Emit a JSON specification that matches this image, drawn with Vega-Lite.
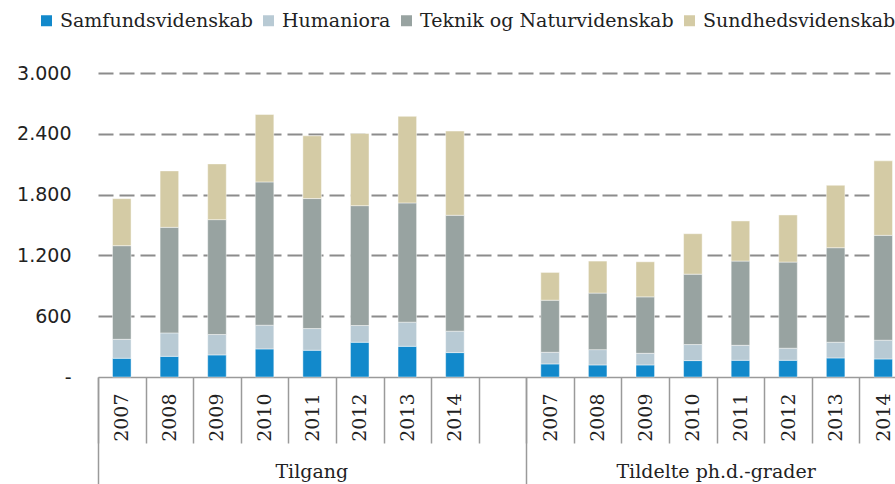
{
  "$schema": "https://vega.github.io/schema/vega-lite/v6.json",
  "width": 797,
  "height": 304,
  "autosize": {"type": "none"},
  "padding": {"left": 98, "top": 73, "right": 0, "bottom": 107},
  "background": "white",
  "config": {
    "view": {"stroke": null},
    "font": "DejaVu Serif",
    "locale": {"number": {"decimal": ",", "thousands": ".", "grouping": [3], "currency": ["", " kr."]}}
  },
  "data": {
    "values": [
      {"group": "Tilgang", "year": "2007", "Samfundsvidenskab": 185, "Humaniora": 187, "Teknik og Naturvidenskab": 924, "Sundhedsvidenskab": 464},
      {"group": "Tilgang", "year": "2008", "Samfundsvidenskab": 204, "Humaniora": 231, "Teknik og Naturvidenskab": 1042, "Sundhedsvidenskab": 557},
      {"group": "Tilgang", "year": "2009", "Samfundsvidenskab": 218, "Humaniora": 201, "Teknik og Naturvidenskab": 1134, "Sundhedsvidenskab": 550},
      {"group": "Tilgang", "year": "2010", "Samfundsvidenskab": 277, "Humaniora": 234, "Teknik og Naturvidenskab": 1414, "Sundhedsvidenskab": 666},
      {"group": "Tilgang", "year": "2011", "Samfundsvidenskab": 264, "Humaniora": 214, "Teknik og Naturvidenskab": 1283, "Sundhedsvidenskab": 619},
      {"group": "Tilgang", "year": "2012", "Samfundsvidenskab": 343, "Humaniora": 165, "Teknik og Naturvidenskab": 1183, "Sundhedsvidenskab": 713},
      {"group": "Tilgang", "year": "2013", "Samfundsvidenskab": 303, "Humaniora": 238, "Teknik og Naturvidenskab": 1177, "Sundhedsvidenskab": 854},
      {"group": "Tilgang", "year": "2014", "Samfundsvidenskab": 241, "Humaniora": 211, "Teknik og Naturvidenskab": 1144, "Sundhedsvidenskab": 831},
      {"group": "Tildelte ph.d.-grader", "year": "2007", "Samfundsvidenskab": 129, "Humaniora": 115, "Teknik og Naturvidenskab": 514, "Sundhedsvidenskab": 274},
      {"group": "Tildelte ph.d.-grader", "year": "2008", "Samfundsvidenskab": 119, "Humaniora": 151, "Teknik og Naturvidenskab": 558, "Sundhedsvidenskab": 316},
      {"group": "Tildelte ph.d.-grader", "year": "2009", "Samfundsvidenskab": 119, "Humaniora": 115, "Teknik og Naturvidenskab": 557, "Sundhedsvidenskab": 346},
      {"group": "Tildelte ph.d.-grader", "year": "2010", "Samfundsvidenskab": 162, "Humaniora": 158, "Teknik og Naturvidenskab": 695, "Sundhedsvidenskab": 399},
      {"group": "Tildelte ph.d.-grader", "year": "2011", "Samfundsvidenskab": 165, "Humaniora": 148, "Teknik og Naturvidenskab": 831, "Sundhedsvidenskab": 396},
      {"group": "Tildelte ph.d.-grader", "year": "2012", "Samfundsvidenskab": 165, "Humaniora": 119, "Teknik og Naturvidenskab": 850, "Sundhedsvidenskab": 465},
      {"group": "Tildelte ph.d.-grader", "year": "2013", "Samfundsvidenskab": 188, "Humaniora": 155, "Teknik og Naturvidenskab": 933, "Sundhedsvidenskab": 616},
      {"group": "Tildelte ph.d.-grader", "year": "2014", "Samfundsvidenskab": 178, "Humaniora": 185, "Teknik og Naturvidenskab": 1035, "Sundhedsvidenskab": 735}
    ]
  },
  "transform": [
    {"fold": ["Samfundsvidenskab", "Humaniora", "Teknik og Naturvidenskab", "Sundhedsvidenskab"], "as": ["cat", "value"]},
    {"calculate": "datum.group + '|' + datum.year", "as": "slot"},
    {"calculate": "indexof(['Samfundsvidenskab', 'Humaniora', 'Teknik og Naturvidenskab', 'Sundhedsvidenskab'], datum.cat)", "as": "catOrder"}
  ],
  "layer": [
    {
      "mark": {"type": "bar", "width": {"band": 0.39}, "stroke": "#ffffff", "strokeWidth": 0.75, "strokeOpacity": 0.6},
      "encoding": {
        "x": {
          "field": "slot", "type": "nominal",
          "scale": {
            "domain": ["Tilgang|2007", "Tilgang|2008", "Tilgang|2009", "Tilgang|2010", "Tilgang|2011", "Tilgang|2012", "Tilgang|2013", "Tilgang|2014", "gap",
                       "Tildelte ph.d.-grader|2007", "Tildelte ph.d.-grader|2008", "Tildelte ph.d.-grader|2009", "Tildelte ph.d.-grader|2010", "Tildelte ph.d.-grader|2011", "Tildelte ph.d.-grader|2012", "Tildelte ph.d.-grader|2013", "Tildelte ph.d.-grader|2014"],
            "range": [0, 809], "paddingInner": 0, "paddingOuter": 0
          },
          "axis": {
            "orient": "bottom", "title": null, "grid": false,
            "tickBand": "extent", "tickSize": 66, "tickColor": "#9a9a9a", "tickWidth": 1.5,
            "domainColor": "#9a9a9a", "domainWidth": 1.5,
            "labelAngle": 270, "labelAlign": "right", "labelBaseline": "middle", "labelPadding": -50,
            "labelExpr": "indexof(datum.value + '', '|') >= 0 ? split(datum.value + '', '|')[1] : ''",
            "labelFont": "DejaVu Serif", "labelFontSize": 19, "labelColor": "#222222", "labelOverlap": false
          }
        },
        "y": {
          "field": "value", "type": "quantitative", "stack": "zero",
          "scale": {"domain": [0, 3000], "nice": false},
          "axis": {
            "title": null, "domain": false, "ticks": false,
            "values": [0, 600, 1200, 1800, 2400, 3000],
            "grid": true, "gridDash": [15, 6], "gridColor": "#8c8c8c", "gridWidth": 2,
            "gridOpacity": {"condition": {"test": "datum.value === 0", "value": 0}, "value": 1},
            "format": ",.0f",
            "labelExpr": "datum.value == 0 ? '-' : datum.label",
            "labelFont": "DejaVu Sans", "labelFontSize": 19, "labelColor": "#222222", "labelPadding": 27
          }
        },
        "color": {
          "field": "cat", "type": "nominal",
          "scale": {
            "domain": ["Samfundsvidenskab", "Humaniora", "Teknik og Naturvidenskab", "Sundhedsvidenskab"],
            "range": ["#1289cb", "#b8cad4", "#98a3a1", "#d4cba5"]
          },
          "legend": {
            "orient": "none", "legendX": -61, "legendY": -62, "direction": "horizontal", "title": null,
            "symbolType": "square", "symbolSize": 121, "symbolStrokeWidth": 0, "symbolOpacity": 1,
            "labelFont": "DejaVu Serif", "labelFontSize": 19, "labelColor": "#222222", "labelLimit": 400,
            "labelOffset": 4, "columnPadding": 6
          }
        },
        "order": {"field": "catOrder", "type": "quantitative", "sort": "ascending"}
      }
    },
    {
      "mark": {"type": "text", "opacity": 0},
      "encoding": {
        "x": {
          "field": "slot", "type": "nominal",
          "scale": {
            "domain": ["Tilgang|2007", "Tilgang|2008", "Tilgang|2009", "Tilgang|2010", "Tilgang|2011", "Tilgang|2012", "Tilgang|2013", "Tilgang|2014", "gap",
                       "Tildelte ph.d.-grader|2007", "Tildelte ph.d.-grader|2008", "Tildelte ph.d.-grader|2009", "Tildelte ph.d.-grader|2010", "Tildelte ph.d.-grader|2011", "Tildelte ph.d.-grader|2012", "Tildelte ph.d.-grader|2013", "Tildelte ph.d.-grader|2014"],
            "range": [0, 809], "paddingInner": 0, "paddingOuter": 0
          },
          "axis": {
            "orient": "bottom", "title": null, "grid": false, "domain": false,
            "values": ["Tilgang|2007", "Tildelte ph.d.-grader|2007"],
            "bandPosition": 0, "tickSize": 107, "tickColor": "#9a9a9a", "tickWidth": 1.5,
            "labelExpr": "split(datum.value + '', '|')[0]",
            "labelAngle": 0, "labelAlign": "center", "labelBaseline": "alphabetic", "labelPadding": -7,
            "labelOffset": {"condition": {"test": "datum.value == 'Tilgang|2007'", "value": 190}, "value": 166},
            "labelFont": "DejaVu Serif", "labelFontSize": 19, "labelColor": "#222222", "labelOverlap": false, "labelLimit": 400
          }
        },
        "text": {"value": ""}
      }
    }
  ],
  "resolve": {"axis": {"x": "independent"}}
}
